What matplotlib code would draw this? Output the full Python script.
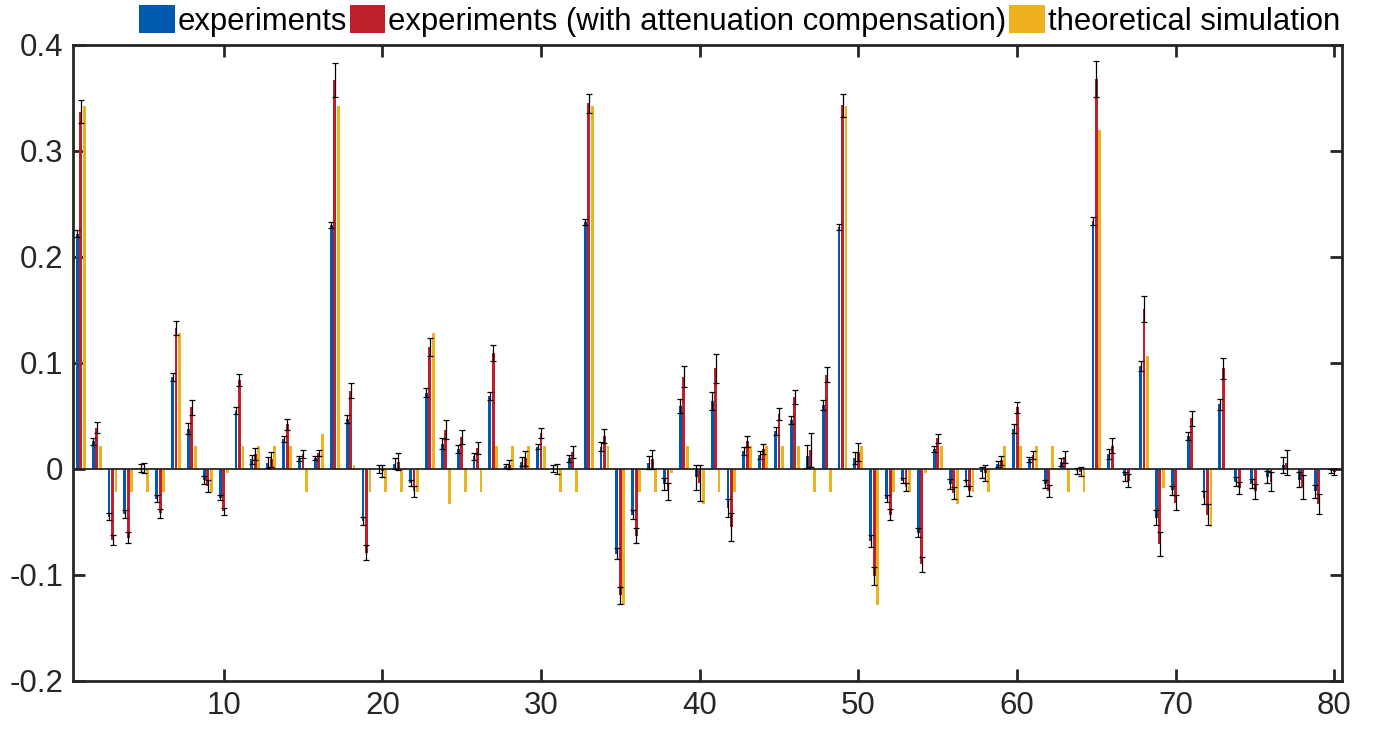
import numpy as np
import matplotlib
matplotlib.use('Agg')
import matplotlib.pyplot as plt
from matplotlib.patches import Patch

plt.rcParams['font.family'] = ['Liberation Sans', 'DejaVu Sans']

# coefficient index 1..80
idx = np.arange(1, 81)

experiments = [
    0.222, 0.026, -0.045, -0.0425, 0.001, -0.028, 0.087, 0.038, -0.010, -0.027,
    0.055, 0.009, 0.006, 0.028, 0.010, 0.010, 0.230, 0.047, -0.049, 0.000,
    0.005, -0.013, 0.072, 0.024, 0.019, 0.012, 0.069, 0.003, 0.007, 0.021,
    0.000, 0.010, 0.233, 0.021, -0.080, -0.043, 0.006, -0.014, 0.059, -0.008,
    0.064, -0.037, 0.017, 0.013, 0.036, 0.046, 0.012, 0.060, 0.228, 0.010,
    -0.068, -0.028, -0.011, -0.060, 0.019, -0.014, -0.013, -0.003, 0.005, 0.038,
    0.009, -0.014, 0.007, -0.002, 0.234, 0.014, -0.007, 0.097, -0.046, -0.020,
    0.031, -0.027, 0.061, -0.012, -0.014, -0.008, 0.004, -0.010, -0.021, -0.002,
]
experiments_err = [
    0.003, 0.0035, 0.003, 0.0036, 0.0035, 0.003, 0.004, 0.005, 0.0038, 0.002,
    0.003, 0.004, 0.005, 0.003, 0.0024, 0.002, 0.003, 0.004, 0.004, 0.0038,
    0.0055, 0.003, 0.004, 0.0055, 0.004, 0.0035, 0.0036, 0.002, 0.0045, 0.0025,
    0.0033, 0.003, 0.003, 0.004, 0.005, 0.0044, 0.006, 0.0057, 0.0066, 0.0115,
    0.0087, 0.0087, 0.0036, 0.0035, 0.0036, 0.0038, 0.011, 0.0046, 0.003, 0.0057,
    0.0053, 0.0033, 0.0027, 0.0042, 0.003, 0.0047, 0.003, 0.0053, 0.0027, 0.0042,
    0.0024, 0.004, 0.0038, 0.0027, 0.004, 0.0044, 0.004, 0.0044, 0.007, 0.0042,
    0.004, 0.0063, 0.0053, 0.004, 0.0044, 0.0057, 0.0075, 0.0074, 0.006, 0.002,
]

compensated = [
    0.337, 0.039, -0.067, -0.065, 0.001, -0.042, 0.133, 0.058, -0.016, -0.040,
    0.084, 0.014, 0.009, 0.042, 0.014, 0.015, 0.367, 0.074, -0.079, -0.002,
    0.007, -0.021, 0.115, 0.037, 0.030, 0.020, 0.109, 0.004, 0.010, 0.034,
    0.000, 0.016, 0.345, 0.031, -0.119, -0.063, 0.009, -0.021, 0.087, -0.013,
    0.095, -0.055, 0.026, 0.019, 0.052, 0.068, 0.018, 0.089, 0.343, 0.016,
    -0.101, -0.043, -0.017, -0.090, 0.029, -0.023, -0.021, -0.004, 0.008, 0.058,
    0.013, -0.021, 0.011, -0.0025, 0.368, 0.022, -0.011, 0.151, -0.071, -0.032,
    0.048, -0.043, 0.095, -0.018, -0.021, -0.012, 0.006, -0.017, -0.033, -0.003,
]
compensated_err = [
    0.011, 0.0053, 0.005, 0.0053, 0.005, 0.0047, 0.007, 0.0075, 0.0057, 0.0036,
    0.0055, 0.006, 0.007, 0.005, 0.0038, 0.0027, 0.016, 0.0074, 0.007, 0.0058,
    0.008, 0.005, 0.0085, 0.0088, 0.0066, 0.0055, 0.0075, 0.004, 0.007, 0.0044,
    0.005, 0.0055, 0.009, 0.0063, 0.008, 0.007, 0.0088, 0.008, 0.0097, 0.017,
    0.0135, 0.013, 0.005, 0.005, 0.0058, 0.0068, 0.016, 0.007, 0.011, 0.0087,
    0.0087, 0.005, 0.0042, 0.007, 0.0044, 0.0057, 0.0047, 0.0077, 0.004, 0.0052,
    0.0035, 0.0055, 0.0057, 0.004, 0.017, 0.007, 0.0063, 0.012, 0.0113, 0.007,
    0.007, 0.01, 0.01, 0.006, 0.007, 0.009, 0.0115, 0.011, 0.0097, 0.0025,
]

simulation = [
    0.342, 0.022, -0.022, -0.022, -0.022, -0.022, 0.128, 0.022, -0.022, -0.004,
    0.022, 0.022, 0.022, 0.022, -0.022, 0.033, 0.342, 0.004, -0.022, -0.022,
    -0.022, -0.022, 0.128, -0.033, -0.022, -0.022, 0.022, 0.022, 0.022, 0.022,
    -0.022, -0.022, 0.342, 0.022, -0.128, -0.022, -0.022, -0.004, 0.022, -0.033,
    -0.022, -0.022, 0.022, 0.022, 0.022, 0.022, -0.022, -0.022, 0.342, 0.022,
    -0.128, -0.022, -0.022, -0.004, 0.022, -0.033, -0.022, -0.022, 0.022, 0.022,
    0.022, 0.022, -0.022, -0.022, 0.320, 0.0, 0.0, 0.107, -0.018, 0.0,
    0.0, -0.055, 0.0, 0.0, 0.0, 0.0, 0.0, 0.0, 0.0, 0.0,
]

labels = ['experiments', 'experiments (with attenuation compensation)',
          'theoretical simulation']
colors = ['#0059AC', '#BF1F2B', '#EDB120']

yticks = [-0.2, -0.1, 0, 0.1, 0.2, 0.3, 0.4]
ytick_labels = ['-0.2', '-0.1', '0', '0.1', '0.2', '0.3', '0.4']
xticks = [10, 20, 30, 40, 50, 60, 70, 80]

fig = plt.figure(figsize=(13.96, 7.32), dpi=100)
ax = fig.add_axes([0.0522, 0.0697, 0.9094, 0.8689])

# grouped bars: three per coefficient
step = 0.22
w = 0.18
ax.bar(idx - step, experiments, w, color=colors[0], zorder=2)
ax.bar(idx, compensated, w, color=colors[1], zorder=2)
ax.bar(idx + step, simulation, w, color=colors[2], zorder=2)

ax.errorbar(idx - step, experiments, yerr=experiments_err, fmt='none',
            ecolor='black', elinewidth=0.9, capsize=2.3, capthick=0.9, zorder=3)
ax.errorbar(idx, compensated, yerr=compensated_err, fmt='none',
            ecolor='black', elinewidth=0.9, capsize=2.3, capthick=0.9, zorder=3)

ax.axhline(0, color='#262626', lw=1.3, zorder=2.5)

ax.set_xlim(0.5, 80.5)
ax.set_ylim(-0.2, 0.4)
ax.set_xticks(xticks)
ax.set_yticks(yticks)
ax.set_yticklabels(ytick_labels)

for s in ax.spines.values():
    s.set_linewidth(2.0)
    s.set_color('#262626')
ax.tick_params(direction='in', length=8.8, width=2.0, colors='#262626',
               labelsize=22.5, top=True, right=True, pad=7)

handles = [Patch(facecolor=c, edgecolor='none') for c in colors]
fig.legend(handles, labels, loc='upper right', bbox_to_anchor=(0.962, 0.997),
           ncol=3, frameon=False, fontsize=22.3, handlelength=1.15,
           handleheight=1.0, handletextpad=0.1, columnspacing=0.08,
           borderaxespad=0.0, borderpad=0.1)

fig.savefig('out.png', dpi=100)
